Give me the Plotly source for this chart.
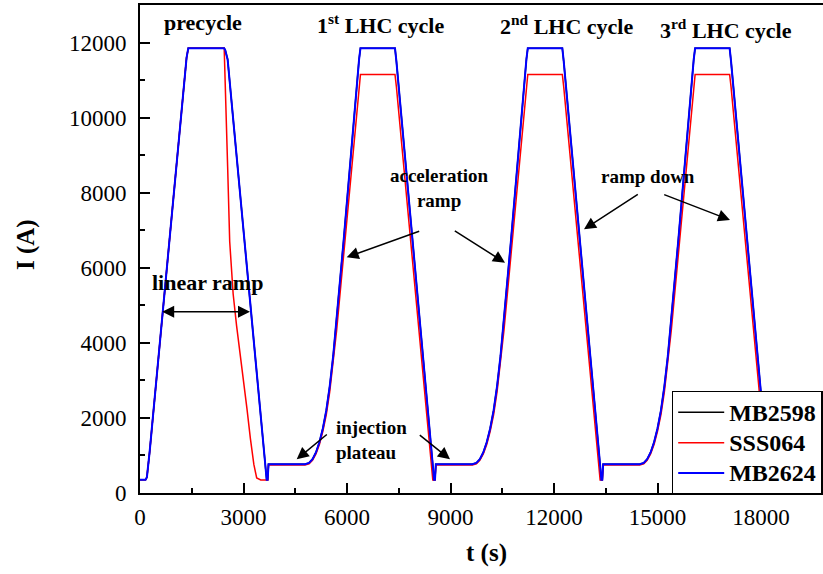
import plotly.graph_objects as go

# ---------------- data ----------------
t_s = [0, 160, 200, 240, 280, 1350, 1400, 2440, 2470, 2540, 2600, 2700, 2800, 2900, 3000, 3100, 3200, 3300, 3382, 3500,
       3672, 3700, 3725, 4783, 4900, 5000, 5100, 5200, 5300, 5400, 5500, 5600, 5700, 5800, 5900, 6350, 6390, 7391, 7432, 8487,
       8522, 8550, 8575, 9633, 9750, 9850, 9950, 10050, 10150, 10250, 10350, 10450, 10550, 10650, 10750, 11200, 11240, 12241, 12282, 13337,
       13372, 13400, 13425, 14483, 14600, 14700, 14800, 14900, 15000, 15100, 15200, 15300, 15400, 15500, 15600, 16050, 16090, 17091, 17132, 18187, 18222]

mb2624_I = [350, 350, 420, 700, 1100, 11600, 11850, 11850, 11800, 11550, 10956, 9967, 8978, 7988, 6999, 6009, 5020, 4031, 3219, 2052,
            350, 350, 765, 765, 800, 900, 1080, 1350, 1720, 2200, 2850, 3650, 4600, 5650, 6700, 11550, 11850, 11850, 11500, 739,
            350, 350, 765, 765, 800, 900, 1080, 1350, 1720, 2200, 2850, 3650, 4600, 5650, 6700, 11550, 11850, 11850, 11500, 739,
            350, 350, 765, 765, 800, 900, 1080, 1350, 1720, 2200, 2850, 3650, 4600, 5650, 6700, 11550, 11850, 11850, 11500, 739, 350]

mb2598_I = [350, 350, 420, 700, 1100, 11600, 11850, 11850, 11800, 11550, 10956, 9967, 8978, 7988, 6999, 6009, 5020, 4031, 3219, 2052,
            350, 350, 765, 765, 800, 900, 1080, 1350, 1720, 2200, 2850, 3650, 4600, 5650, 6700, 11550, 11850, 11850, 11500, 739,
            350, 350, 765, 765, 800, 900, 1080, 1350, 1720, 2200, 2850, 3650, 4600, 5650, 6700, 11550, 11850, 11850, 11500, 739,
            350, 350, 765, 765, 800, 900, 1080, 1350, 1720, 2200, 2850, 3650, 4600, 5650, 6700, 11550, 11850, 11850, 11500, 739, 350]

sss064_I = [350, 350, 420, 700, 1100, 11600, 11850, 11850, 11000, 8700, 6700, 5300, 4450, 3750, 3000, 2250, 1450, 760, 400, 347,
            347, 347, 745, 745, 778, 871, 1040, 1293, 1640, 2090, 2699, 3448, 4338, 5322, 6306, 10870, 11150, 11150, 10820, 347,
            347, 347, 745, 745, 778, 871, 1040, 1293, 1640, 2090, 2699, 3448, 4338, 5322, 6306, 10870, 11150, 11150, 10820, 347,
            347, 347, 745, 745, 778, 871, 1040, 1293, 1640, 2090, 2699, 3448, 4338, 5322, 6306, 10870, 11150, 11150, 10820, 347, 347]

series_names = ["MB2598", "SSS064", "MB2624"]
x_ticks = [0, 3000, 6000, 9000, 12000, 15000, 18000]
y_ticks = [0, 2000, 4000, 6000, 8000, 10000, 12000]

# ---------------- layout geometry ----------------
W, H = 823, 574
L, R, T, B = 140, 0, 5, 81
XMAX, YMAX = 19797, 13000
PW, PH = W - L - R, H - T - B


def px2x(px):
    return (px - L) / PW * XMAX


def py2y(py):
    return (H - B - py) / PH * YMAX


def pxp(px):
    return (px - L) / PW


def pyp(py):
    return (H - B - py) / PH


SERIF = "Liberation Serif"

fig = go.Figure()
fig.add_trace(go.Scatter(x=t_s, y=mb2598_I, mode="lines",
                         name='<span style="font-size:24px">%s</span>' % series_names[0],
                         line=dict(color="black", width=1.5)))
fig.add_trace(go.Scatter(x=t_s, y=sss064_I, mode="lines",
                         name='<span style="font-size:24px">%s</span>' % series_names[1],
                         line=dict(color="#ff0000", width=1.5)))
fig.add_trace(go.Scatter(x=t_s, y=mb2624_I, mode="lines",
                         name='<span style="font-size:24px">%s</span>' % series_names[2],
                         line=dict(color="#0000ff", width=2)))

ann = []


def text(px, py, s, size=22, xanchor="center", align="center", angle=0):
    ann.append(dict(x=pxp(px), y=pyp(py), xref="paper", yref="paper", text=s,
                    showarrow=False, xanchor=xanchor, yanchor="middle", align=align,
                    textangle=angle,
                    font=dict(family=SERIF, size=size, color="black", weight="bold")))


def arrow(tx, ty, hx, hy, both=False):
    ann.append(dict(x=px2x(hx), y=py2y(hy), ax=px2x(tx), ay=py2y(ty),
                    xref="x", yref="y", axref="x", ayref="y", text="",
                    showarrow=True, arrowhead=2, arrowsize=1.6, arrowwidth=1.5,
                    arrowcolor="black", standoff=0, startstandoff=0,
                    arrowside="end+start" if both else "end",
                    startarrowhead=2, startarrowsize=1.6))


text(203, 22, "precycle")
text(380, 24, "1<sup>st</sup> LHC cycle")
text(566, 25, "2<sup>nd</sup> LHC cycle")
text(726, 29, "3<sup>rd</sup> LHC cycle")
text(207, 282, "linear ramp")
text(439, 188, "acceleration<br>ramp", size=19)
text(648, 177, "ramp down", size=19)
text(334, 440, "injection<br>plateau", size=19, xanchor="left", align="left")

arrow(160.7, 311.7, 250, 311.7, both=True)
arrow(420.7, 230.7, 346.7, 257.3)
arrow(453.3, 230, 505, 262.7)
arrow(639.3, 193.3, 584, 229.3)
arrow(662.7, 194, 730, 220)
arrow(328.3, 433.3, 296.7, 459.3)
arrow(418.3, 434, 450, 459.3)

# axis titles
text(26, 245, "I (A)", size=25, angle=-90)
text(486, 553, "t (s)", size=25)

axis_common = dict(showline=True, linecolor="black", linewidth=2, showgrid=False, zeroline=False,
                   ticks="inside", ticklen=10, tickwidth=1.5, tickcolor="black",
                   tickfont=dict(family=SERIF, size=23, color="black"))

fig.update_layout(
    width=W, height=H,
    margin=dict(l=L, r=R, t=T, b=B, autoexpand=False),
    paper_bgcolor="white", plot_bgcolor="white",
    showlegend=True,
    legend=dict(x=pxp(671.7), y=pyp(390.7), xanchor="left", yanchor="top",
                bgcolor="white", bordercolor="black", borderwidth=1.5,
                font=dict(family=SERIF, size=21, color="black", weight="bold"),
                itemwidth=46, tracegroupgap=0),
    annotations=ann,
    shapes=[dict(type="line", xref="paper", yref="paper",
                 x0=pxp(674), x1=pxp(823), y0=pyp(488.2), y1=pyp(488.2),
                 line=dict(color="#808080", width=2), layer="above")],
    xaxis=dict(range=[0, XMAX], tickvals=x_ticks, ticktext=[str(v) for v in x_ticks],
               mirror=True, ticklabelstandoff=2,
               minor=dict(tickvals=[1500, 4500, 7500, 10500, 13500, 16500, 19500], ticks="inside",
                          ticklen=5, tickwidth=1.5, tickcolor="black", showgrid=False),
               **axis_common),
    yaxis=dict(range=[0, YMAX], tickvals=y_ticks, ticktext=[str(v) for v in y_ticks],
               ticklabelstandoff=7,
               minor=dict(tickvals=[1000, 3000, 5000, 7000, 9000, 11000], ticks="inside",
                          ticklen=5, tickwidth=1.5, tickcolor="black", showgrid=False),
               **axis_common),
)

fig.write_html("out.html")
